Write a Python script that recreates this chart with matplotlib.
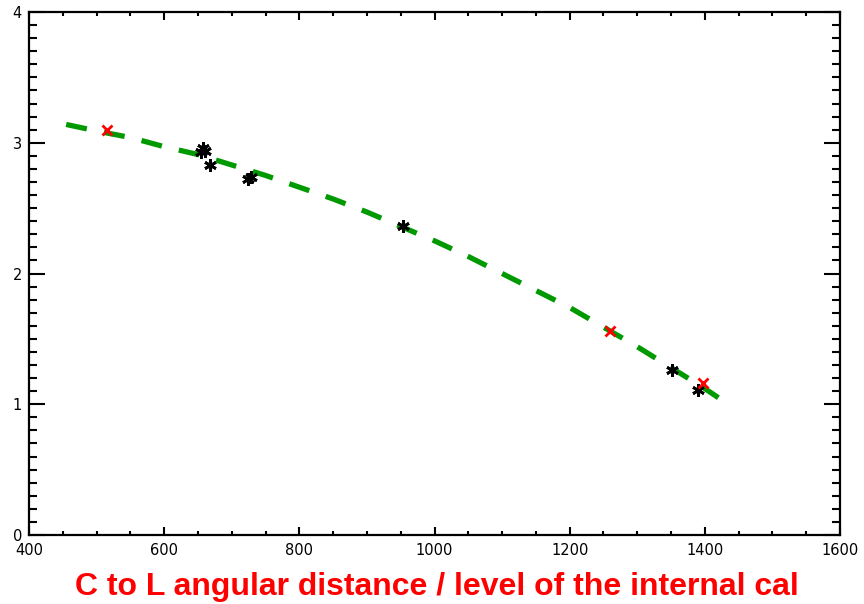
import numpy as np
import matplotlib.pyplot as plt
from matplotlib.ticker import MultipleLocator

# fitted curve
fit_x = [455, 500, 550, 600, 650, 700, 750, 800, 850, 900, 950, 1000, 1050,
         1100, 1150, 1200, 1250, 1300, 1350, 1400, 1420]
fit_y = [3.14, 3.09, 3.04, 2.97, 2.91, 2.83, 2.75, 2.66, 2.57, 2.47, 2.36, 2.25,
         2.13, 2.00, 1.87, 1.74, 1.59, 1.44, 1.28, 1.12, 1.05]

# internal cal points (red)
cal_x = [515, 1260, 1397]
cal_y = [3.10, 1.56, 1.16]

# measured points (black)
meas_x = [657, 654, 661, 668, 724, 728, 953, 1351, 1390]
meas_y = [2.96, 2.93, 2.94, 2.83, 2.72, 2.74, 2.36, 1.26, 1.11]

fig = plt.figure(figsize=(8.64, 6.04), dpi=100)
ax = fig.add_axes([29/864, 69/604, 811/864, 523/604])

ax.plot(fit_x, fit_y, color='#009a00', lw=3.8, dashes=(4, 3.3), dash_capstyle='butt')
ax.plot(meas_x, meas_y, ls='none', marker=(6, 2, 0), ms=9, mew=2, color='black')
ax.plot(cal_x, cal_y, ls='none', marker='x', ms=7, mew=2, color='red')

ax.set_xlim(400, 1600)
ax.set_ylim(0, 4)
ax.xaxis.set_major_locator(MultipleLocator(200))
ax.xaxis.set_minor_locator(MultipleLocator(50))
ax.yaxis.set_major_locator(MultipleLocator(1))
ax.yaxis.set_minor_locator(MultipleLocator(0.1))
ax.tick_params(axis='both', which='both', direction='in', top=True, right=True,
               width=1.5, labelsize=10.5)
ax.tick_params(axis='x', which='major', length=6, pad=6)
ax.tick_params(axis='x', which='minor', length=3)
ax.tick_params(axis='y', which='major', length=11.5, pad=5)
ax.tick_params(axis='y', which='minor', length=5.8)
for s in ax.spines.values():
    s.set_linewidth(1.6)

fig.text(437/864, 1 - 587/604, 'C to L angular distance / level of the internal cal',
         ha='center', va='center', color='red', fontsize=23, fontweight='bold',
         family=['Liberation Sans', 'DejaVu Sans'])

fig.savefig('out.png', dpi=100)
